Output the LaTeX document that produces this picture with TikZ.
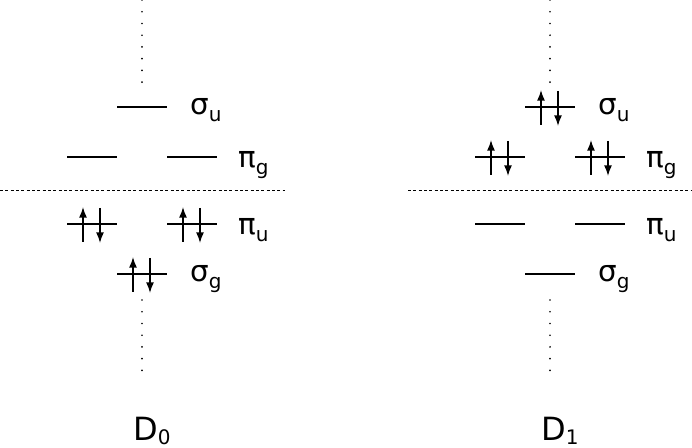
\documentclass[tikz,border=0pt]{standalone}
\usepackage{fontspec}
\setmainfont{DejaVu Sans}
\usetikzlibrary{arrows.meta}

\newcommand\lsub[1]{\raisebox{-0.22em}{\fontsize{15}{15}\selectfont #1}}

\begin{document}
\begin{tikzpicture}[x=7.5pt, y=7.5pt,
  level/.style={line width=1.2pt},
  spin/.style={line width=1.1pt, -{Latex[length=8pt,width=6pt]}},
  sep/.style={line width=0.6pt, dash pattern=on 2.2pt off 1.8pt},
  axis/.style={line width=1.4pt, line cap=round, dash pattern=on 0pt off 8.8pt},
  lbl/.style={anchor=base west, inner sep=0pt, font=\fontsize{22}{26}\selectfont}]
  \useasboundingbox (0,0) rectangle (69.2,44.8);

  % D0: ground state
  \draw[axis] (14.2,44.8) -- (14.2,36.5);
  \draw[axis] (14.2,14.8) -- (14.2,6.6);
  \draw[level] (11.7,34.1) -- (16.7,34.1);
  \draw[level] (6.7,29.1) -- (11.7,29.1);
  \draw[level] (16.7,29.1) -- (21.7,29.1);
  \draw[sep] (0,25.8) -- (28.5,25.8);
  \draw[level] (6.7,22.4) -- (11.7,22.4);
  \draw[level] (16.7,22.4) -- (21.7,22.4);
  \draw[level] (11.7,17.4) -- (16.7,17.4);
  \node[lbl] (su0) at (19.0,33.3) {σ\lsub{u}};
  \node[lbl] (pg0) at (23.8,28.0) {π\lsub{g}};
  \node[lbl] (pu0) at (23.8,21.3) {π\lsub{u}};
  \node[lbl] (sg0) at (19.0,16.6) {σ\lsub{g}};
  \node[lbl, font=\fontsize{24}{28}\selectfont] (d0) at (13.3,0.7) {D\raisebox{-0.1em}{\fontsize{15}{15}\selectfont 0}};

  % D1: excited state
  \draw[axis] (55.0,44.8) -- (55.0,36.5);
  \draw[axis] (55.0,14.8) -- (55.0,6.6);
  \draw[level] (52.5,34.1) -- (57.5,34.1);
  \draw[level] (47.5,29.1) -- (52.5,29.1);
  \draw[level] (57.5,29.1) -- (62.5,29.1);
  \draw[sep] (40.8,25.8) -- (69.2,25.8);
  \draw[level] (47.5,22.4) -- (52.5,22.4);
  \draw[level] (57.5,22.4) -- (62.5,22.4);
  \draw[level] (52.5,17.4) -- (57.5,17.4);
  \node[lbl] (su1) at (59.8,33.3) {σ\lsub{u}};
  \node[lbl] (pg1) at (64.6,28.0) {π\lsub{g}};
  \node[lbl] (pu1) at (64.6,21.3) {π\lsub{u}};
  \node[lbl] (sg1) at (59.8,16.6) {σ\lsub{g}};
  \node[lbl, font=\fontsize{24}{28}\selectfont] (d1) at (54.1,0.7) {D\raisebox{-0.1em}{\fontsize{15}{15}\selectfont 1}};

  % electron pairs
  \foreach \x/\y in {6.7/22.4, 16.7/22.4, 11.7/17.4, 52.5/34.1, 47.5/29.1, 57.5/29.1} {
    \draw[spin] (\x+1.6,\y-1.8) -- (\x+1.6,\y+1.7);
    \draw[spin] (\x+3.3,\y+1.6) -- (\x+3.3,\y-1.9);
  }
\end{tikzpicture}
\end{document}
